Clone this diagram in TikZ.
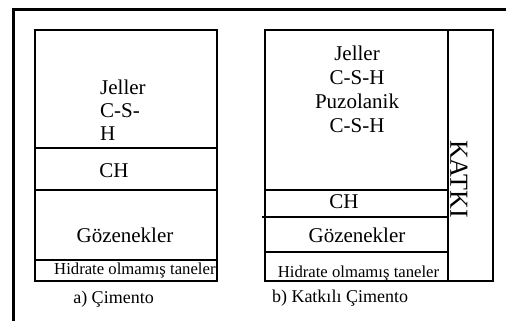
\documentclass[tikz,border=0pt]{standalone}
\usepackage{fontspec}
\setmainfont{Liberation Serif}
\begin{document}
\begin{tikzpicture}[x=1pt,y=1pt,
  boxline/.style={line width=2.2pt},
  lbl/.style={inner sep=0pt, font=\fontsize{21}{24}\selectfont},
  smalltext/.style={inner sep=0pt, font=\fontsize{16.7}{19}\selectfont},
  captext/.style={inner sep=0pt, font=\fontsize{18}{21}\selectfont}]
\useasboundingbox (0,0) rectangle (506,321);
% outer frame
\draw[line width=3pt] (13.5,0) -- (13.5,311.5) -- (506,311.5);

% a) plain cement
\draw[boxline] (35,40) rectangle (217,291);
\draw[boxline] (35,173) -- (217,173);
\draw[boxline] (35,131) -- (217,131);
\draw[boxline] (35,61) -- (217,61);
\node[lbl, anchor=west, align=left, font=\fontsize{21}{23}\selectfont] (aJel) at (100,211) {Jeller\\C-S-\\H};
\node[lbl] (aCH) at (114,150) {CH};
\node[lbl] (aGoz) at (125,86) {Gözenekler};
\node[smalltext, anchor=west] (aHid) at (54,51) {Hidrate olmamış taneler};
\node[captext] (aCap) at (113.5,22) {a) Çimento};

% b) cement with admixture
\draw[boxline] (265,40) rectangle (448,291);
\draw[boxline] (448,40) rectangle (493,291);
\draw[boxline] (265,131) -- (448,131);
\draw[boxline] (262,104) -- (448,104);
\draw[boxline] (265,69) -- (448,69);
\node[lbl, align=center] (bJel) at (357,232) {Jeller\\C-S-H\\Puzolanik\\C-S-H};
\node[lbl] (bCH) at (344,119) {CH};
\node[lbl] (bGoz) at (357,86) {Gözenekler};
\node[smalltext] (bHid) at (358.5,48) {Hidrate olmamış taneler};
\node[captext] (bCap) at (340,23) {b) Katkılı Çimento};
\node[inner sep=0pt, rotate=-90, font=\fontsize{26}{28}\selectfont] (katki) at (459,142) {KATKI};
\end{tikzpicture}
\end{document}
